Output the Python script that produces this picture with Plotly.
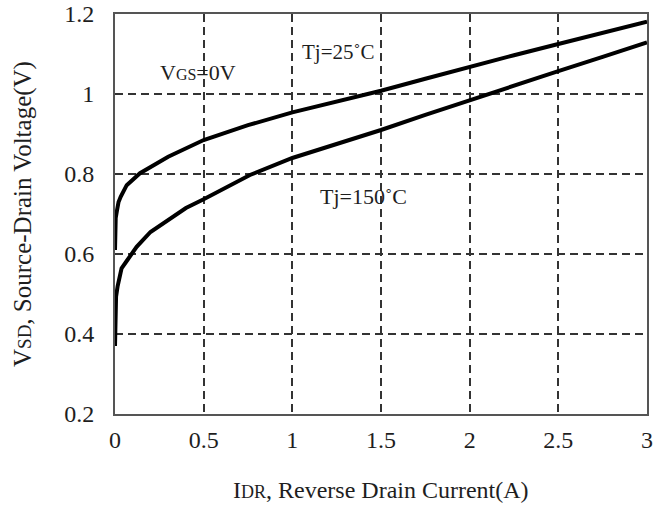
import plotly.graph_objects as go

# Reverse drain current (A) and source-drain voltage (V)
x_25 = [0.0, 0.0, 0.004, 0.01, 0.02, 0.032, 0.066, 0.141, 0.2, 0.3, 0.5, 0.75, 1.0, 1.25, 1.5, 1.75, 2.0, 2.25, 2.5, 2.75, 3.0]
v_25 = [0.61, 0.66, 0.69, 0.706, 0.73, 0.743, 0.772, 0.802, 0.818, 0.843, 0.885, 0.922, 0.954, 0.981, 1.008, 1.038, 1.068, 1.097, 1.125, 1.153, 1.181]

x_150 = [0.0, 0.003, 0.006, 0.015, 0.028, 0.037, 0.07, 0.122, 0.2, 0.29, 0.4, 0.5, 0.761, 1.0, 1.25, 1.5, 1.75, 2.0, 2.25, 2.5, 2.75, 3.0]
v_150 = [0.37, 0.44, 0.493, 0.52, 0.55, 0.564, 0.585, 0.618, 0.655, 0.681, 0.715, 0.737, 0.7975, 0.84, 0.875, 0.91, 0.948, 0.985, 1.021, 1.057, 1.093, 1.129]

x_ticks = [0, 0.5, 1, 1.5, 2, 2.5, 3]
x_tick_labels = ["0", "0.5", "1", "1.5", "2", "2.5", "3"]
y_ticks = [0.2, 0.4, 0.6, 0.8, 1.0, 1.2]
y_tick_labels = ["0.2", "0.4", "0.6", "0.8", "1", "1.2"]

FONT = "Liberation Serif, Times New Roman, serif"
TXT = "#1e1e1e"

fig = go.Figure()
fig.add_trace(go.Scatter(x=x_25, y=v_25, mode="lines",
                         line=dict(color="black", width=4), showlegend=False))
fig.add_trace(go.Scatter(x=x_150, y=v_150, mode="lines",
                         line=dict(color="black", width=4), showlegend=False))

axis_common = dict(
    showgrid=True, gridcolor="#333333", gridwidth=1.5, griddash="8px,5px",
    showline=True, linecolor="#555555", linewidth=2, mirror=True,
    zeroline=False, ticks="", automargin=False,
    tickfont=dict(family=FONT, size=24, color=TXT),
)

fig.update_xaxes(range=[0, 3], tickvals=x_ticks, ticktext=x_tick_labels,
                 ticklabelstandoff=3, **axis_common)
fig.update_yaxes(range=[0.2, 1.2], tickvals=y_ticks, ticktext=y_tick_labels,
                 ticklabelstandoff=14, **axis_common)

annots = [
    dict(x=0.243, y=1.055, text="V<span style='font-size:16px'>GS</span>=0V", xanchor="left", size=22),
    dict(x=1.045, y=1.105, text="Tj=25˚C", xanchor="left", size=21),
    dict(x=1.145, y=0.745, text="Tj=150˚C", xanchor="left", size=22),
]
for a in annots:
    size = a.pop("size")
    fig.add_annotation(xref="x", yref="y", showarrow=False, yanchor="middle",
                       font=dict(family=FONT, size=size, color=TXT), **a)

fig.add_annotation(xref="paper", yref="paper", x=0.5, y=0, yanchor="top", xanchor="center",
                   yshift=-61, showarrow=False,
                   text="I<span style='font-size:18px'>DR</span>, Reverse Drain Current(A)",
                   font=dict(family=FONT, size=24, color=TXT))
fig.add_annotation(xref="paper", yref="paper", x=0, y=0.5, xanchor="right", yanchor="middle",
                   xshift=-76, textangle=-90, showarrow=False,
                   text="V<span style='font-size:19px'>SD</span>, Source-Drain Voltage(V)",
                   font=dict(family=FONT, size=25, color=TXT))

fig.update_layout(
    width=666, height=507,
    margin=dict(l=115, r=19, t=14, b=93, autoexpand=False),
    paper_bgcolor="white", plot_bgcolor="white",
)

fig.write_html("out.html", config={"displayModeBar": False},
               post_script="document.body.style.margin='0px';document.body.style.padding='0px';")
